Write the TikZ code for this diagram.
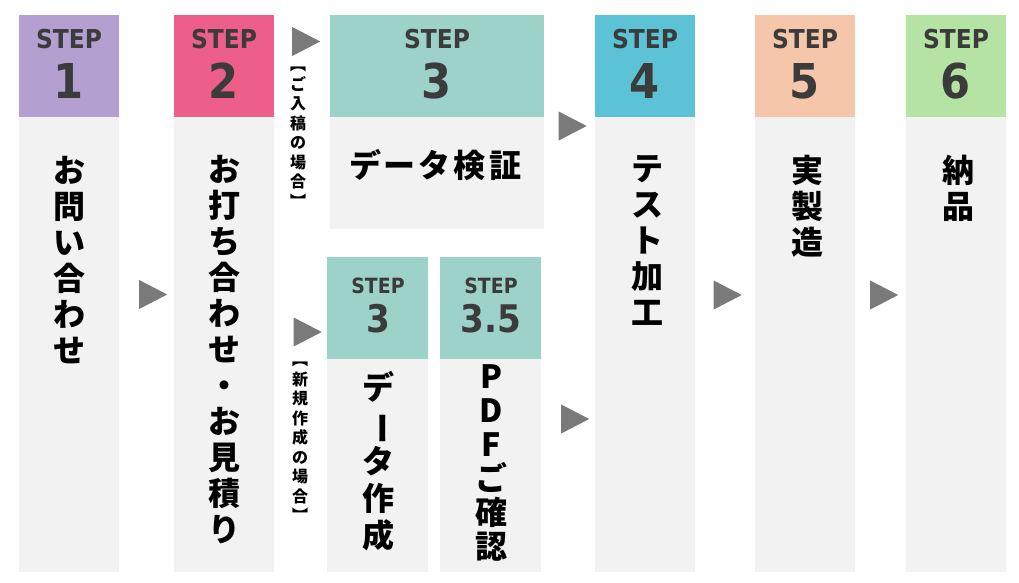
\documentclass[tikz,border=0pt]{standalone}
\usepackage{fontspec}
\newfontfamily\stepfont{DejaVu Sans Condensed}
\newfontfamily\jp{Noto Sans CJK JP}
\usetikzlibrary{shapes.geometric}

\definecolor{stepone}{HTML}{B39FD0}
\definecolor{steptwo}{HTML}{EE5E8A}
\definecolor{stepthree}{HTML}{9DD2C9}
\definecolor{stepfour}{HTML}{5CC3D6}
\definecolor{stepfive}{HTML}{F6C6AB}
\definecolor{stepsix}{HTML}{B4E3A3}
\definecolor{boxgray}{HTML}{F2F2F2}
\definecolor{textgray}{HTML}{3B3B3B}
\definecolor{arrowgray}{HTML}{7A7A7A}

\tikzset{
  head/.style={rectangle, inner sep=0pt, anchor=north west, minimum width=100pt, minimum height=102pt},
  board/.style={rectangle, inner sep=0pt, anchor=north west, minimum width=100pt, fill=boxgray},
  steptext/.style={anchor=base, text=textgray, font=\stepfont\bfseries\fontsize{26}{26}\selectfont},
  stepnum/.style={anchor=base, text=textgray, font=\stepfont\bfseries\fontsize{48}{48}\selectfont},
  vtext/.style={align=center, inner sep=0pt, font=\jp\bfseries\fontsize{32}{36}\selectfont},
  note/.style={align=center, inner sep=0pt, font=\jp\bfseries\fontsize{16}{19.5}\selectfont},
  tri/.style={isosceles triangle, isosceles triangle stretches, inner sep=0pt, fill=arrowgray, minimum width=29pt, minimum height=28pt},
}

\begin{document}
\begin{tikzpicture}[x=1pt, y=-1pt]
  \fill[white] (0,0) rectangle (1019,582);
  \useasboundingbox (0,0) rectangle (1019,582);

  % step 1
  \node[head, fill=stepone] (h1) at (19,15) {};
  \node[board, minimum height=455pt] (b1) at (19,117) {};
  \node[steptext] (s1) at (69,48) {STEP};
  \node[stepnum] (n1) at (69,98) {1};
  \node[vtext] (t1) at (69,260) {お\\問\\い\\合\\わ\\せ};

  % step 2
  \node[head, fill=steptwo] (h2) at (174,15) {};
  \node[board, minimum height=455pt] (b2) at (174,117) {};
  \node[steptext] (s2) at (224,48) {STEP};
  \node[stepnum] (n2) at (224,98) {2};
  \node[vtext] (t2) at (224,350) {お\\打\\ち\\合\\わ\\せ\\・\\お\\見\\積\\り};

  % step 3, ご入稿
  \node[head, fill=stepthree, minimum width=214pt] (h3) at (330,15) {};
  \node[board, minimum width=214pt, minimum height=112pt] (b3) at (330,117) {};
  \node[steptext] (s3) at (437,48) {STEP};
  \node[stepnum] (n3) at (437,98) {3};
  \node[vtext] (t3) at (435,165) {デ\hspace{3pt}ー\hspace{3pt}タ\hspace{3pt}検\hspace{3pt}証};

  % step 3, 新規作成
  \node[head, fill=stepthree, minimum width=101pt] (h3n) at (327,257) {};
  \node[board, minimum width=101pt, minimum height=213pt] (b3n) at (327,359) {};
  \node[steptext, font=\stepfont\bfseries\fontsize{21}{21}\selectfont] (s3n) at (378,293) {STEP};
  \node[stepnum, font=\stepfont\bfseries\fontsize{38}{38}\selectfont] (n3n) at (378,332) {3};
  \node[vtext, font=\jp\bfseries\fontsize{32}{37}\selectfont] (t3n) at (378,461) {デ\\\rotatebox[origin=c]{-90}{ー}\\タ\\作\\成};

  % step 3.5
  \node[head, fill=stepthree, minimum width=101pt] (h35) at (440,257) {};
  \node[board, minimum width=101pt, minimum height=213pt] (b35) at (440,359) {};
  \node[steptext, font=\stepfont\bfseries\fontsize{21}{21}\selectfont] (s35) at (491,293) {STEP};
  \node[stepnum, font=\stepfont\bfseries\fontsize{38}{38}\selectfont] (n35) at (491,332) {3.5};
  \node[vtext, font=\jp\bfseries\fontsize{32}{34}\selectfont] (t35) at (491,463) {P\\D\\F\\ご\\確\\認};

  % step 4
  \node[head, fill=stepfour] (h4) at (595,15) {};
  \node[board, minimum height=455pt] (b4) at (595,117) {};
  \node[steptext] (s4) at (645,48) {STEP};
  \node[stepnum] (n4) at (645,98) {4};
  \node[vtext] (t4) at (647,240) {テ\\ス\\ト\\加\\工};

  % step 5
  \node[head, fill=stepfive] (h5) at (755,15) {};
  \node[board, minimum height=455pt] (b5) at (755,117) {};
  \node[steptext] (s5) at (805,48) {STEP};
  \node[stepnum] (n5) at (805,98) {5};
  \node[vtext] (t5) at (807,206) {実\\製\\造};

  % step 6
  \node[head, fill=stepsix] (h6) at (906,15) {};
  \node[board, minimum height=455pt] (b6) at (906,117) {};
  \node[steptext] (s6) at (956,48) {STEP};
  \node[stepnum] (n6) at (956,98) {6};
  \node[vtext] (t6) at (958,188) {納\\品};

  % notes
  \node[note] (k1) at (298,137) {︻\\ご\\入\\稿\\の\\場\\合\\︼};
  \node[note] (k2) at (300,442) {︻\\新\\規\\作\\成\\の\\場\\合\\︼};

  % arrows
  \node[tri] (a1) at (301,41.5) {};
  \node[tri] (a2) at (567.5,126) {};
  \node[tri] (a3) at (148,294.5) {};
  \node[tri] (a4) at (302.5,332) {};
  \node[tri] (a5) at (570,419) {};
  \node[tri] (a6) at (722.5,295) {};
  \node[tri] (a7) at (879,295) {};
\end{tikzpicture}
\end{document}
